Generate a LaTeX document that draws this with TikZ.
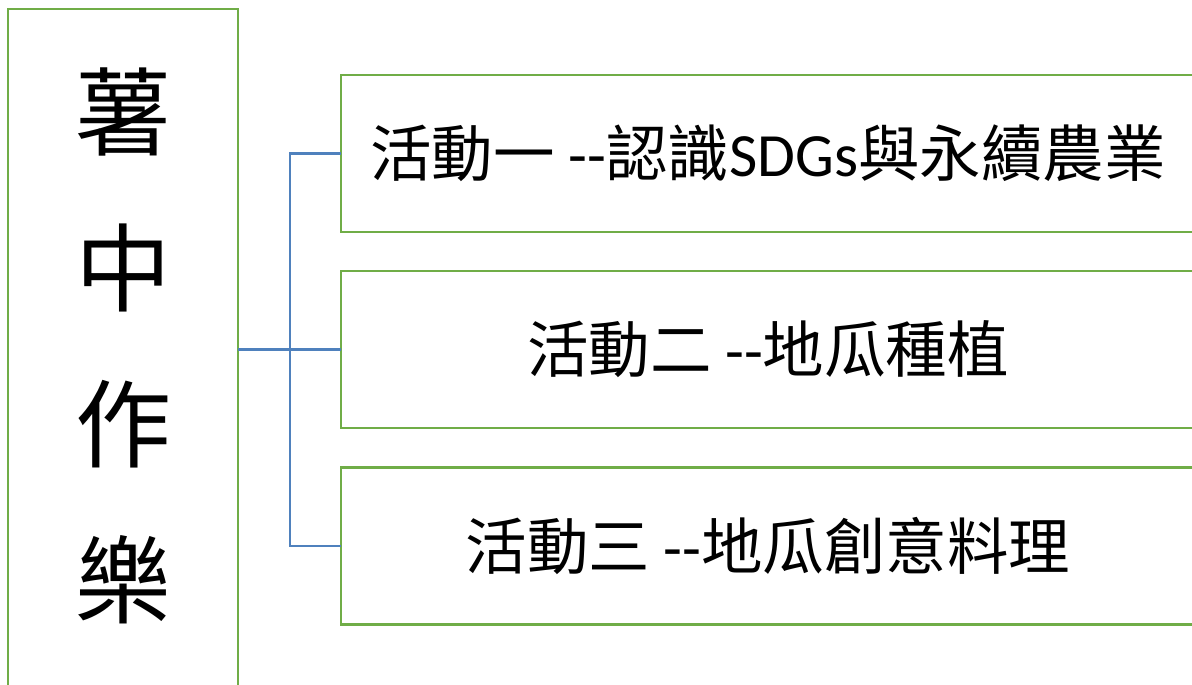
\documentclass[tikz,border=0pt]{standalone}
\usepackage{fontspec}
\newfontfamily\cjk{Noto Sans CJK TC}
\newfontfamily\lat{Carlito}
\definecolor{boxgreen}{HTML}{70AD47}
\definecolor{linkblue}{HTML}{4F81BD}
\begin{document}
\begin{tikzpicture}[x=1pt,y=-1pt,
  gbox/.style={draw=boxgreen,line width=2.8pt,rectangle,inner sep=0pt,outer sep=0pt},
  actbox/.style={gbox,minimum width=854pt,minimum height=157pt,
    font=\cjk\fontsize{61.5}{72}\selectfont},
  link/.style={draw=linkblue,line width=2.3pt}]
\useasboundingbox (0,0) rectangle (1192,685);
\clip (0,0) rectangle (1192,685);
\node[gbox,minimum width=230pt,minimum height=700pt] (L) at (123,359) {};
\node[font=\cjk\fontsize{96}{156}\selectfont,align=center,inner sep=0pt] (Lt) at (123,346)
  {薯\\中\\作\\樂};
\node[actbox] (A) at (768,153.5) {活動一 {\lat{-}{-}}認識{\lat SDGs}與永續農業};
\node[actbox] (B) at (768,349.5) {活動二 {\lat{-}{-}}地瓜種植};
\node[actbox] (C) at (768,546) {活動三 {\lat{-}{-}}地瓜創意料理};
\coordinate (J) at (290,349.5);
\draw[link] (A.west) -- (A.west -| J) -- (C.west -| J) -- (C.west);
\draw[link] (L.east |- B.west) -- (B.west);
\end{tikzpicture}
\end{document}
